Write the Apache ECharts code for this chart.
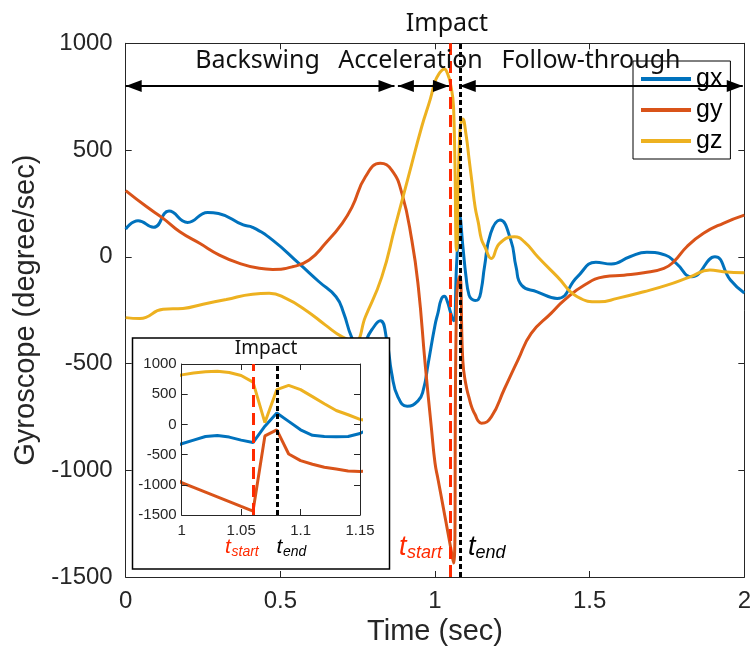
<!DOCTYPE html>
<html>
<head>
<meta charset="utf-8">
<script src="https://cdn.jsdelivr.net/npm/echarts@6/dist/echarts.min.js"></script>
<style>
  html, body { margin: 0; padding: 0; background: #fff; }
  #chart { width: 754px; height: 656px; }
</style>
</head>
<body>
<div id="chart"></div>
<script>
// Gyroscope readings (degree/sec) over a golf swing, time in seconds.
const gxTime = [0, 0.04, 0.09, 0.14, 0.2, 0.265, 0.3, 0.38, 0.41, 0.475, 0.56, 0.625, 0.68, 0.705, 0.73, 0.755, 0.795, 0.823, 0.844, 0.86, 0.88, 0.91, 0.945, 0.962, 0.978,
  1.0, 1.01, 1.02, 1.03, 1.04, 1.05, 1.06, 1.07, 1.08, 1.09, 1.1, 1.11, 1.12, 1.13, 1.14, 1.15,
  1.16, 1.18, 1.21, 1.245, 1.262, 1.28, 1.33, 1.395, 1.46, 1.52, 1.57, 1.63, 1.685, 1.745, 1.78, 1.83, 1.905, 1.955, 2.0];
const gxValues = [130, 169, 138, 214, 161, 208, 203, 149, 138, 78, -31, -117, -187, -265, -375, -430, -343, -300, -390, -546, -656, -700, -675, -625, -500,
  -320, -260, -200, -185, -210, -260, -300, -30, 190, 50, -90, -180, -200, -205, -200, -150,
  -47, 110, 172, 78, -47, -133, -164, -195, -94, -26, -34, 0, 21, 8, -31, -94, 0, -109, -170];

const gyTime = [0, 0.068, 0.121, 0.175, 0.239, 0.303, 0.368, 0.432, 0.475, 0.539, 0.593, 0.646, 0.7, 0.732, 0.775, 0.823, 0.86, 0.893, 0.925, 0.946, 0.968, 0.989,
  1.0, 1.01, 1.02, 1.03, 1.04, 1.05, 1.06, 1.07, 1.08, 1.09, 1.1, 1.11, 1.12, 1.13, 1.14, 1.15,
  1.182, 1.225, 1.268, 1.311, 1.375, 1.418, 1.482, 1.547, 1.611, 1.675, 1.74, 1.772, 1.814, 1.868, 1.932, 2.0];
const gyValues = [310, 234, 180, 117, 63, 8, -31, -54, -59, -47, -15, 63, 157, 234, 375, 438, 406, 297, 78, -141, -500, -812,
  -966, -1044, -1122, -1200, -1278, -1357, -1435, -190, -90, -490, -600, -660, -710, -740, -770, -780,
  -750, -617, -484, -359, -265, -203, -133, -94, -86, -75, -54, -23, 47, 110, 157, 195];

const gzTime = [0, 0.046, 0.121, 0.185, 0.25, 0.325, 0.41, 0.464, 0.518, 0.582, 0.646, 0.7, 0.74, 0.775, 0.828, 0.871, 0.914, 0.957, 0.985,
  1.0, 1.01, 1.02, 1.03, 1.04, 1.05, 1.06, 1.07, 1.08, 1.09, 1.1, 1.11, 1.12, 1.13, 1.14, 1.15,
  1.161, 1.182, 1.209, 1.257, 1.289, 1.332, 1.396, 1.46, 1.531, 1.589, 1.675, 1.75, 1.825, 1.889, 1.932, 2.0];
const gzValues = [-285, -289, -246, -242, -222, -200, -175, -171, -195, -250, -320, -375, -395, -281, -94, 141, 375, 609, 740,
  820, 850, 870, 880, 860, 810, 700, 30, 575, 645, 575, 460, 343, 230, 160, 83,
  47, -8, 63, 94, 70, 0, -94, -187, -211, -195, -164, -133, -94, -62, -70, -75];

const seriesNames = ['gx', 'gy', 'gz'];
const seriesColors = ['#0072BD', '#D95319', '#EDB120'];

// Axis ticks
const timeTicks = [0, 0.5, 1, 1.5, 2];
const rateTicks = [-1500, -1000, -500, 0, 500, 1000];
const zoomTimeTicks = [1, 1.05, 1.1, 1.15];

// Swing phases: arrows spanning each phase, drawn at this rate level
const phaseNames = ['Backswing', 'Acceleration', 'Follow-through'];
const phaseSpans = [[0, 0.869], [0.88, 1.045], [1.08, 1.995]];
const phaseArrowLevel = 800;

// Impact window markers
const tStartMain = 1.047, tEndMain = 1.08;
const tStartZoom = 1.06, tEndZoom = 1.08;

const tickFont = '"Liberation Sans", Arial, Helvetica, sans-serif';
const noteFont = '"Noto Sans", "DejaVu Sans", sans-serif';
const axisColor = '#262626';

function pairs(t, v) { return t.map((x, i) => [x, v[i]]); }
const traces = [pairs(gxTime, gxValues), pairs(gyTime, gyValues), pairs(gzTime, gzValues)];

function step(ticks) { return ticks[1] - ticks[0]; }
const plain = v => String(v);

function makeAxis(grid, ticks, pos, labels, extra) {
  return Object.assign({
    gridIndex: grid, type: 'value', position: pos,
    min: ticks[0], max: ticks[ticks.length - 1], interval: step(ticks),
    axisLine: { show: true, onZero: false, lineStyle: { color: axisColor, width: 1 } },
    axisTick: { show: true, inside: true, length: 6, lineStyle: { color: axisColor } },
    axisLabel: labels,
    splitLine: { show: false }
  }, extra || {});
}

const mainLabelX = { show: true, fontSize: 24, color: axisColor, fontFamily: tickFont, margin: 12, formatter: plain };
const mainLabelY = { show: true, fontSize: 24, color: axisColor, fontFamily: tickFont, margin: 13, formatter: plain };
const zoomLabelX = { show: true, fontSize: 15, color: axisColor, fontFamily: tickFont, margin: 8, formatter: plain };
const zoomLabelY = { show: true, fontSize: 15, color: axisColor, fontFamily: tickFont, margin: 5, formatter: plain };
const noLabel = { show: false };
const zoomZ = { z: 21 };

const series = [];
seriesNames.forEach((name, i) => {
  series.push({
    name, type: 'line', xAxisIndex: 0, yAxisIndex: 0,
    data: traces[i], showSymbol: false, smooth: 0.5,
    lineStyle: { width: 3, color: seriesColors[i] }, itemStyle: { color: seriesColors[i] },
    z: 2
  });
});

// phase arrows with a head at each end
const headSpec = { symbol: 'triangle', symbolSize: [12, 16], symbolOffset: [0, 8] };
series[0].markLine = {
  silent: true, z: 6,
  symbol: ['triangle', 'triangle'],
  itemStyle: { color: '#000' },
  label: { show: false },
  lineStyle: { color: '#000', width: 2, type: 'solid' },
  emphasis: { disabled: true },
  data: phaseSpans.map(([a, b]) => [
    Object.assign({ coord: [a, phaseArrowLevel] }, headSpec),
    Object.assign({ coord: [b, phaseArrowLevel] }, headSpec)
  ])
};
// impact window lines
series[1].markLine = {
  silent: true, z: 6, symbol: 'none', label: { show: false },
  emphasis: { disabled: true },
  data: [
    { xAxis: tStartMain, lineStyle: { color: '#ff2a00', width: 3, type: [12, 6] } },
    { xAxis: tEndMain, lineStyle: { color: '#000', width: 3, type: [5, 3] } }
  ]
};
seriesNames.forEach((name, i) => {
  series.push({
    name, type: 'line', xAxisIndex: 2, yAxisIndex: 2,
    data: traces[i], showSymbol: false, smooth: false, clip: true,
    lineStyle: { width: 3, color: seriesColors[i] }, itemStyle: { color: seriesColors[i] },
    z: 20
  });
});
series[3].markLine = {
  silent: true, z: 25, symbol: 'none', label: { show: false },
  emphasis: { disabled: true },
  data: [
    { xAxis: tStartZoom, lineStyle: { color: '#ff2a00', width: 3, type: [12, 6] } },
    { xAxis: tEndZoom, lineStyle: { color: '#000', width: 3, type: [5, 3] } }
  ]
};

function txt(text, x, y, size) {
  return {
    type: 'text', x, y, z: 30, silent: true,
    style: {
      text, fontSize: size, fontFamily: noteFont, fill: '#111',
      align: 'center', verticalAlign: 'middle'
    }
  };
}
function subLabel(x, y, main, sub, color, bigSize, smallSize, subShift) {
  return [
    { type: 'text', x, y, z: 30, silent: true,
      style: { text: main, fontSize: bigSize, fontStyle: 'italic', fontFamily: tickFont, fill: color, align: 'left', verticalAlign: 'bottom' } },
    { type: 'text', x: x + subShift, y: y + 1, z: 30, silent: true,
      style: { text: sub, fontSize: smallSize, fontStyle: 'italic', fontFamily: tickFont, fill: color, align: 'left', verticalAlign: 'bottom' } }
  ];
}

const graphics = [
  { type: 'rect', z: 10, silent: true,
    shape: { x: 132.5, y: 338, width: 257, height: 231 },
    style: { fill: '#fff', stroke: '#000', lineWidth: 1.5 } },
  txt('Impact', 447, 24, 25),
  txt(phaseNames[0], 257.5, 61, 25),
  txt(phaseNames[1], 410.5, 61, 25),
  txt(phaseNames[2], 591, 61, 25),
  txt('Impact', 266, 349, 19),
  ...subLabel(399, 561, 't', 'start', '#ff2a00', 27, 18, 8),
  ...subLabel(468, 561, 't', 'end', '#000', 27, 18, 7.5),
  ...subLabel(225, 558, 't', 'start', '#ff2a00', 21, 14, 6.5),
  ...subLabel(276.5, 558, 't', 'end', '#000', 21, 14, 6.5)
];

const option = {
  animation: false,
  backgroundColor: '#fff',
  grid: [
    { left: 125.7, right: 6.3, top: 43.3, bottom: 79 },
    { left: 181.7, right: 394, top: 364, bottom: 141 }
  ],
  xAxis: [
    makeAxis(0, timeTicks, 'bottom', mainLabelX, {
      name: 'Time (sec)', nameLocation: 'middle', nameGap: 40,
      nameTextStyle: { fontSize: 29, color: axisColor, fontFamily: tickFont }
    }),
    makeAxis(0, timeTicks, 'top', noLabel),
    makeAxis(1, zoomTimeTicks, 'bottom', zoomLabelX, zoomZ),
    makeAxis(1, zoomTimeTicks, 'top', noLabel, zoomZ)
  ],
  yAxis: [
    makeAxis(0, rateTicks, 'left', mainLabelY, {
      name: 'Gyroscope (degree/sec)', nameLocation: 'middle', nameGap: 73,
      nameTextStyle: { fontSize: 29, color: axisColor, fontFamily: tickFont }
    }),
    makeAxis(0, rateTicks, 'right', noLabel),
    makeAxis(1, rateTicks, 'left', zoomLabelY, zoomZ),
    makeAxis(1, rateTicks, 'right', noLabel, zoomZ)
  ],
  legend: {
    data: seriesNames, orient: 'vertical', left: 633, top: 61,
    padding: [3, 8, 3, 8], itemGap: 1, itemWidth: 50, itemHeight: 4, icon: 'rect',
    backgroundColor: '#fff', borderColor: '#000', borderWidth: 1,
    textStyle: { fontSize: 25, lineHeight: 30, color: '#000', fontFamily: tickFont },
    selectedMode: false
  },
  series,
  graphic: graphics
};

const chart = echarts.init(document.getElementById('chart'), null, { renderer: 'canvas' });
chart.setOption(option);
</script>
</body>
</html>
